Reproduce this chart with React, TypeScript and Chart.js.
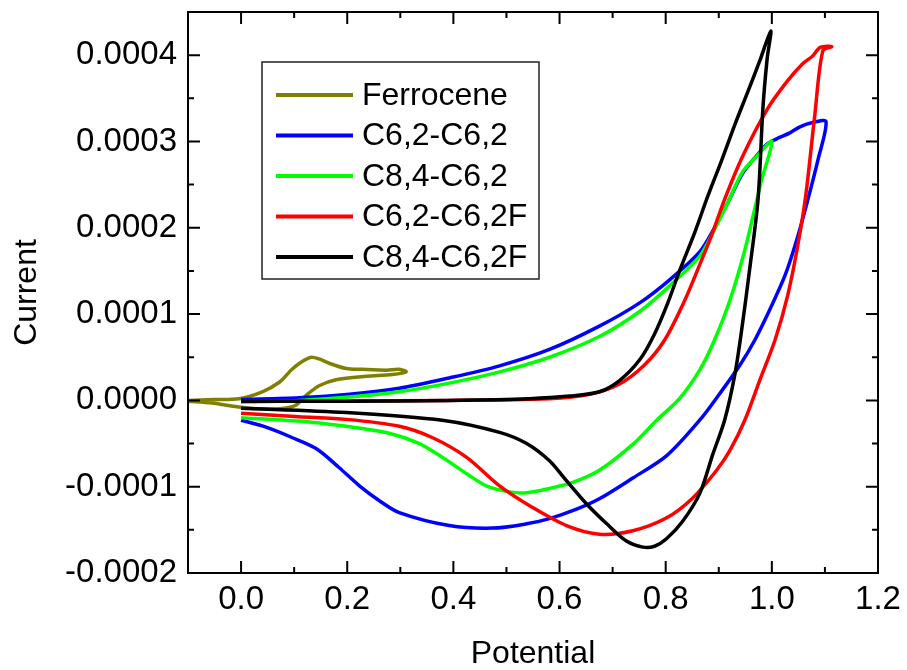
import React, { useEffect, useRef } from 'react';
import { Chart, registerables } from 'chart.js';

Chart.register(...registerables);

const seriesNames = ['Ferrocene', 'C6,2-C6,2', 'C8,4-C6,2', 'C6,2-C6,2F', 'C8,4-C6,2F'];
const seriesColors = ['#808000', '#0000FF', '#00FF00', '#FF0000', '#000000'];

const xTickStep = 0.2;
const yTickStep = 0.0001;

const ferroceneX = [-0.100, -0.051, -0.004, 0.040, 0.072, 0.096, 0.115, 0.132, 0.147, 0.166, 0.198, 0.228, 0.274, 0.298, 0.311,
  0.285, 0.236, 0.179, 0.147, 0.123, 0.102, 0.081, 0.043, 0.000, -0.055, -0.100];
const ferroceneY = [0.00e-4, 0.01e-4, 0.02e-4, 0.10e-4, 0.21e-4, 0.36e-4, 0.45e-4, 0.50e-4, 0.48e-4, 0.43e-4, 0.37e-4, 0.36e-4, 0.35e-4, 0.36e-4, 0.33e-4,
  0.30e-4, 0.28e-4, 0.24e-4, 0.17e-4, 0.06e-4, -0.06e-4, -0.09e-4, -0.10e-4, -0.08e-4, -0.03e-4, -0.01e-4];

const c62X = [0.000, 0.109, 0.204, 0.298, 0.392, 0.487, 0.581, 0.675, 0.751, 0.808, 0.864, 0.892, 0.917, 0.945, 0.972, 0.991, 1.009, 1.034, 1.053, 1.077, 1.102,
  1.087, 1.068, 1.047, 1.025, 0.996, 0.968, 0.940, 0.902, 0.864, 0.802, 0.738, 0.675, 0.632, 0.581, 0.538, 0.474, 0.392, 0.298, 0.260, 0.223, 0.185, 0.142, 0.096, 0.047, 0.000];
const c62Y = [0.01e-4, 0.03e-4, 0.07e-4, 0.14e-4, 0.26e-4, 0.40e-4, 0.59e-4, 0.86e-4, 1.13e-4, 1.40e-4, 1.72e-4, 2.00e-4, 2.29e-4, 2.63e-4, 2.84e-4, 2.97e-4, 3.03e-4, 3.10e-4, 3.17e-4, 3.22e-4, 3.23e-4,
  2.79e-4, 2.33e-4, 1.86e-4, 1.45e-4, 1.05e-4, 0.70e-4, 0.41e-4, 0.08e-4, -0.23e-4, -0.64e-4, -0.90e-4, -1.14e-4, -1.26e-4, -1.37e-4, -1.43e-4, -1.48e-4, -1.45e-4, -1.30e-4, -1.16e-4, -0.99e-4, -0.78e-4, -0.56e-4, -0.43e-4, -0.31e-4, -0.23e-4];

const c84X = [0.000, 0.109, 0.204, 0.298, 0.392, 0.487, 0.581, 0.675, 0.751, 0.808, 0.864, 0.892, 0.917, 0.945, 0.972, 1.000,
  0.981, 0.972, 0.949, 0.921, 0.892, 0.864, 0.826, 0.783, 0.738, 0.675, 0.625, 0.581, 0.538, 0.506, 0.462, 0.425, 0.379, 0.336, 0.279, 0.198, 0.109, 0.000];
const c84Y = [-0.02e-4, 0.00e-4, 0.04e-4, 0.10e-4, 0.20e-4, 0.33e-4, 0.50e-4, 0.74e-4, 1.03e-4, 1.33e-4, 1.67e-4, 1.98e-4, 2.29e-4, 2.65e-4, 2.83e-4, 3.00e-4,
  2.56e-4, 2.33e-4, 1.74e-4, 1.16e-4, 0.70e-4, 0.35e-4, 0.02e-4, -0.23e-4, -0.51e-4, -0.81e-4, -0.95e-4, -1.02e-4, -1.07e-4, -1.06e-4, -0.99e-4, -0.85e-4, -0.66e-4, -0.50e-4, -0.38e-4, -0.30e-4, -0.24e-4, -0.20e-4];

const c62FX = [0.000, 0.392, 0.581, 0.657, 0.713, 0.760, 0.798, 0.836, 0.864, 0.887, 0.911, 0.945, 0.991, 1.028, 1.058, 1.077, 1.091, 1.113,
  1.096, 1.081, 1.064, 1.049, 1.030, 1.006, 0.977, 0.949, 0.921, 0.896, 0.851, 0.802, 0.738, 0.675, 0.613, 0.549, 0.487, 0.425, 0.360, 0.298, 0.198, 0.109, 0.000];
const c62FY = [-0.01e-4, 0.00e-4, 0.02e-4, 0.07e-4, 0.19e-4, 0.41e-4, 0.70e-4, 1.16e-4, 1.57e-4, 1.92e-4, 2.33e-4, 2.83e-4, 3.37e-4, 3.69e-4, 3.90e-4, 3.99e-4, 4.09e-4, 4.10e-4,
  4.05e-4, 3.31e-4, 2.38e-4, 1.80e-4, 1.22e-4, 0.70e-4, 0.23e-4, -0.23e-4, -0.58e-4, -0.81e-4, -1.13e-4, -1.36e-4, -1.51e-4, -1.55e-4, -1.45e-4, -1.24e-4, -0.99e-4, -0.66e-4, -0.43e-4, -0.30e-4, -0.22e-4, -0.19e-4, -0.15e-4];

const c84FX = [0.000, 0.204, 0.392, 0.543, 0.619, 0.675, 0.713, 0.751, 0.779, 0.804, 0.826, 0.855, 0.879, 0.906, 0.930, 0.955, 0.977, 0.998,
  0.991, 0.983, 0.974, 0.958, 0.943, 0.930, 0.911, 0.889, 0.864, 0.832, 0.802, 0.779, 0.757, 0.726, 0.689, 0.651, 0.613, 0.581, 0.538, 0.487, 0.379, 0.198, 0.000];
const c84FY = [-0.01e-4, -0.01e-4, 0.00e-4, 0.02e-4, 0.05e-4, 0.10e-4, 0.23e-4, 0.47e-4, 0.77e-4, 1.13e-4, 1.50e-4, 1.95e-4, 2.36e-4, 2.79e-4, 3.19e-4, 3.58e-4, 3.93e-4, 4.28e-4,
  3.95e-4, 3.37e-4, 2.33e-4, 1.51e-4, 0.81e-4, 0.29e-4, -0.23e-4, -0.62e-4, -1.08e-4, -1.40e-4, -1.60e-4, -1.69e-4, -1.70e-4, -1.63e-4, -1.43e-4, -1.20e-4, -0.93e-4, -0.70e-4, -0.50e-4, -0.37e-4, -0.23e-4, -0.14e-4, -0.09e-4];

const seriesX = [ferroceneX, c62X, c84X, c62FX, c84FX];
const seriesY = [ferroceneY, c62Y, c84Y, c62FY, c84FY];

const FONT = "'Liberation Sans', Arial, sans-serif";

const framePlugin = {
  id: 'frameTicks',
  afterDatasetsDraw(chart: any) {
    const { ctx, chartArea: a, scales } = chart;
    const xs = scales.x;
    const ys = scales.y;
    ctx.save();
    ctx.strokeStyle = '#000';
    ctx.lineWidth = 2;
    ctx.strokeRect(a.left, a.top, a.right - a.left, a.bottom - a.top);
    const major = 12;
    const minor = 6;
    const minorVals = (scale: any, step: number) => {
      const out: number[] = [];
      scale.ticks.forEach((t: any) => {
        [t.value - step / 2, t.value + step / 2].forEach((v) => {
          if (v > scale.min + 1e-12 && v < scale.max - 1e-12 && !out.some((o) => Math.abs(o - v) < step / 10)) out.push(v);
        });
      });
      return out;
    };
    ctx.beginPath();
    xs.ticks.forEach((t: any) => {
      const p = xs.getPixelForValue(t.value);
      ctx.moveTo(p, a.bottom); ctx.lineTo(p, a.bottom - major);
      ctx.moveTo(p, a.top); ctx.lineTo(p, a.top + major);
    });
    minorVals(xs, xTickStep).forEach((v) => {
      const p = xs.getPixelForValue(v);
      ctx.moveTo(p, a.bottom); ctx.lineTo(p, a.bottom - minor);
      ctx.moveTo(p, a.top); ctx.lineTo(p, a.top + minor);
    });
    ys.ticks.forEach((t: any) => {
      const p = ys.getPixelForValue(t.value);
      ctx.moveTo(a.left, p); ctx.lineTo(a.left + major, p);
      ctx.moveTo(a.right, p); ctx.lineTo(a.right - major, p);
    });
    minorVals(ys, yTickStep).forEach((v) => {
      const p = ys.getPixelForValue(v);
      ctx.moveTo(a.left, p); ctx.lineTo(a.left + minor, p);
      ctx.moveTo(a.right, p); ctx.lineTo(a.right - minor, p);
    });
    ctx.stroke();

    // legend box
    const bx = a.left + 74;
    const by = a.top + 50;
    const bw = 277;
    const bh = 217;
    ctx.fillStyle = '#fff';
    ctx.fillRect(bx, by, bw, bh);
    ctx.lineWidth = 1.5;
    ctx.strokeStyle = '#222';
    ctx.strokeRect(bx, by, bw, bh);
    ctx.font = `32px ${FONT}`;
    ctx.textBaseline = 'middle';
    ctx.textAlign = 'left';
    chart.data.datasets.forEach((ds: any, i: number) => {
      const yy = by + 33 + i * 40.5;
      ctx.strokeStyle = ds.borderColor;
      ctx.lineWidth = 4;
      ctx.beginPath();
      ctx.moveTo(bx + 14, yy);
      ctx.lineTo(bx + 91, yy);
      ctx.stroke();
      ctx.fillStyle = '#000';
      ctx.fillText(ds.label, bx + 100, yy + 1);
    });
    ctx.restore();
  },
};

export default function App() {
  const ref = useRef<HTMLCanvasElement | null>(null);
  useEffect(() => {
    if (!ref.current) return;
    const datasets = seriesNames.map((name, i) => ({
      label: name,
      data: seriesX[i].map((x, j) => ({ x, y: seriesY[i][j] })),
      borderColor: seriesColors[i],
      backgroundColor: seriesColors[i],
      borderWidth: 3.5,
      pointRadius: 0,
      showLine: true,
      fill: false,
      tension: 0.3,
      order: seriesNames.length - i,
    }));
    const chart = new Chart(ref.current, {
      type: 'scatter',
      data: { datasets },
      options: {
        animation: false,
        responsive: false,
        layout: { padding: { left: 0, top: 12, right: 29, bottom: 0 } },
        plugins: { legend: { display: false }, tooltip: { enabled: false } },
        scales: {
          x: {
            type: 'linear',
            min: -0.1,
            max: 1.2,
            grid: { display: false, drawTicks: false },
            border: { display: false },
            ticks: {
              stepSize: xTickStep,
              includeBounds: false,
              color: '#000',
              font: { size: 33, family: FONT },
              padding: 7,
              callback: (v: any) => Number(v).toFixed(1),
            },
            title: {
              display: true,
              text: 'Potential',
              color: '#000',
              font: { size: 32, family: FONT, lineHeight: 1 },
              padding: { top: 0, bottom: 0 },
            },
            afterFit: (s: any) => { s.height = 97; s.paddingLeft = 0; s.paddingRight = 0; },
          },
          y: {
            type: 'linear',
            min: -0.0002,
            max: 0.00045,
            grid: { display: false, drawTicks: false },
            border: { display: false },
            ticks: {
              stepSize: yTickStep,
              includeBounds: false,
              color: '#000',
              font: { size: 33, family: FONT },
              padding: 11,
              callback: (v: any) => Number(v).toFixed(4),
            },
            title: {
              display: true,
              text: 'Current',
              color: '#000',
              font: { size: 32, family: FONT, lineHeight: 1 },
              padding: { top: 11, bottom: 0 },
            },
            afterFit: (s: any) => { s.width = 188; s.paddingTop = 0; s.paddingBottom = 0; },
          },
        },
      },
      plugins: [framePlugin],
    });
    return () => chart.destroy();
  }, []);
  return (
    <div style={{ position: 'absolute', left: 0, top: 0, width: 907, height: 670, background: '#fff' }}>
      <canvas ref={ref} width={907} height={670} />
    </div>
  );
}
